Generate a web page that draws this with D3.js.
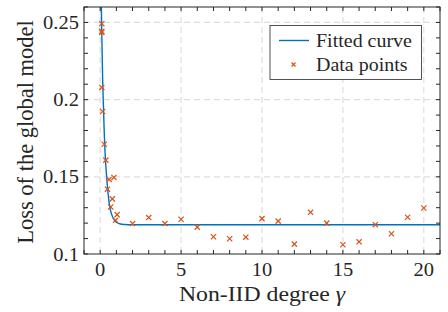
<!DOCTYPE html>
<html><head><meta charset="utf-8">
<script src="https://cdn.jsdelivr.net/npm/d3@7"></script>
<style>html,body{margin:0;padding:0;background:#fff;}svg{display:block;}</style>
</head><body>
<svg id="chart" width="448" height="312"></svg>
<script>
// ---- data ----
const pointX = [0.1, 0.1, 0.1, 0.1, 0.15, 0.25, 0.35, 0.45, 0.55, 0.65, 0.75, 0.85, 0.95, 1.05,
                2, 3, 4, 5, 6, 7, 8, 9, 10, 11, 12, 13, 14, 15, 16, 17, 18, 19, 20];
const pointY = [0.2492, 0.2443, 0.2435, 0.2079, 0.1923, 0.1711, 0.1608, 0.1420, 0.1483, 0.1305, 0.1357, 0.1496, 0.1218, 0.1255,
                0.1197, 0.1236, 0.1197, 0.1225, 0.1174, 0.1112, 0.1099, 0.1109, 0.1229, 0.1213, 0.1064, 0.1270, 0.1200, 0.1060, 0.1079, 0.1190, 0.1131, 0.1238, 0.1298];
const curveX = [0.07, 0.1, 0.15, 0.2, 0.25, 0.3, 0.4, 0.5, 0.6, 0.7, 0.8, 1.0, 1.2, 1.5, 2, 21];
const curveY = [0.262, 0.243, 0.214, 0.196, 0.179, 0.166, 0.150, 0.138, 0.130, 0.126, 0.1233, 0.1206, 0.1196, 0.1191, 0.1189, 0.1189];
const xTickVals = d3.range(-1, 22);
const xLabelVals = [0, 5, 10, 15, 20];
const yTickVals = d3.range(10, 27).map(d => d / 100);
const yLabelVals = [0.1, 0.15, 0.2, 0.25];
const legendLabels = ["Fitted curve", "Data points"];
const xTitle = "Non-IID degree ";
const xTitleSym = "γ";
const yTitle = "Loss of the global model";

// ---- drawing ----
const svg = d3.select("#chart");
const L = 84, R = 440, T = 7, B = 254;
const x = d3.scaleLinear().domain([-1, 21]).range([L, R]);
const y = d3.scaleLinear().domain([0.1, 0.26]).range([B, T]);
const FONT = "'Liberation Serif','Times New Roman',serif";
const SX = 1.08;
const axisCol = "#262626";

svg.append("rect").attr("width", 448).attr("height", 312).attr("fill", "#fff");

function txt(g, px, py, str, anchor, size) {
  return g.append("text")
    .attr("transform", `translate(${px},${py}) scale(${SX},1)`)
    .attr("text-anchor", anchor)
    .attr("font-family", FONT)
    .attr("font-size", size)
    .attr("fill", axisCol)
    .text(str);
}

// grid
const grid = svg.append("g").attr("stroke", "#dedede").attr("stroke-width", 1.2).attr("stroke-dasharray", "6,4");
xLabelVals.forEach(v => grid.append("line").attr("x1", x(v)).attr("x2", x(v)).attr("y1", T).attr("y2", B));
yLabelVals.filter(v => v > 0.1).forEach(v => grid.append("line").attr("x1", L).attr("x2", R).attr("y1", y(v)).attr("y2", y(v)));

// clip
svg.append("clipPath").attr("id", "clip").append("rect").attr("x", L).attr("y", T).attr("width", R - L).attr("height", B - T);
const plot = svg.append("g").attr("clip-path", "url(#clip)");

// fitted curve
const line = d3.line().x((d, i) => x(curveX[i])).y((d, i) => y(curveY[i])).curve(d3.curveMonotoneX);
plot.append("path").datum(curveX).attr("d", line).attr("fill", "none").attr("stroke", "#0072BD").attr("stroke-width", 1.4);

// markers
const ms = 2.6;
const marks = plot.append("g").attr("stroke", "#D95319").attr("stroke-width", 1.2);
pointX.forEach((px, i) => {
  const cx = x(px), cy = y(pointY[i]);
  marks.append("path").attr("d", `M${cx - ms},${cy - ms}L${cx + ms},${cy + ms}M${cx - ms},${cy + ms}L${cx + ms},${cy - ms}`);
});

// axes box and ticks
const ax = svg.append("g").attr("stroke", axisCol).attr("stroke-width", 1).attr("fill", "none");
ax.append("rect").attr("x", L).attr("y", T).attr("width", R - L).attr("height", B - T);
const tl = 4;
xTickVals.forEach(v => {
  ax.append("line").attr("x1", x(v)).attr("x2", x(v)).attr("y1", B).attr("y2", B - tl);
  ax.append("line").attr("x1", x(v)).attr("x2", x(v)).attr("y1", T).attr("y2", T + tl);
});
yTickVals.forEach(v => {
  ax.append("line").attr("x1", L).attr("x2", L + tl).attr("y1", y(v)).attr("y2", y(v));
  ax.append("line").attr("x1", R).attr("x2", R - tl).attr("y1", y(v)).attr("y2", y(v));
});

// tick labels
const labs = svg.append("g");
xLabelVals.forEach(v => txt(labs, x(v), 276, String(v), "middle", 19));
yLabelVals.forEach(v => txt(labs, 79, y(v) + 6.5, String(v), "end", 19));

// axis titles
const xt = txt(svg, (L + R) / 2, 301, "", "middle", 22);
xt.append("tspan").text(xTitle);
xt.append("tspan").attr("font-style", "italic").text(xTitleSym);
svg.append("text")
  .attr("transform", `translate(33,132) rotate(-90) scale(1,1)`)
  .attr("text-anchor", "middle")
  .attr("font-family", FONT).attr("font-size", 22.5).attr("fill", axisCol)
  .text(yTitle);

// legend
const lg = svg.append("g");
lg.append("rect").attr("x", 270).attr("y", 25.5).attr("width", 151.5).attr("height", 54)
  .attr("fill", "#fff").attr("stroke", axisCol).attr("stroke-width", 0.8);
lg.append("line").attr("x1", 279).attr("x2", 309).attr("y1", 40.5).attr("y2", 40.5).attr("stroke", "#0072BD").attr("stroke-width", 1.4);
const lx = 293.5, ly = 64.5;
lg.append("path").attr("d", `M${lx - 2},${ly - 2}L${lx + 2},${ly + 2}M${lx - 2},${ly + 2}L${lx + 2},${ly - 2}`)
  .attr("stroke", "#D95319").attr("stroke-width", 1.2);
txt(lg, 316, 46.5, legendLabels[0], "start", 18.5);
txt(lg, 316, 71.3, legendLabels[1], "start", 18.5);
</script>
</body></html>
